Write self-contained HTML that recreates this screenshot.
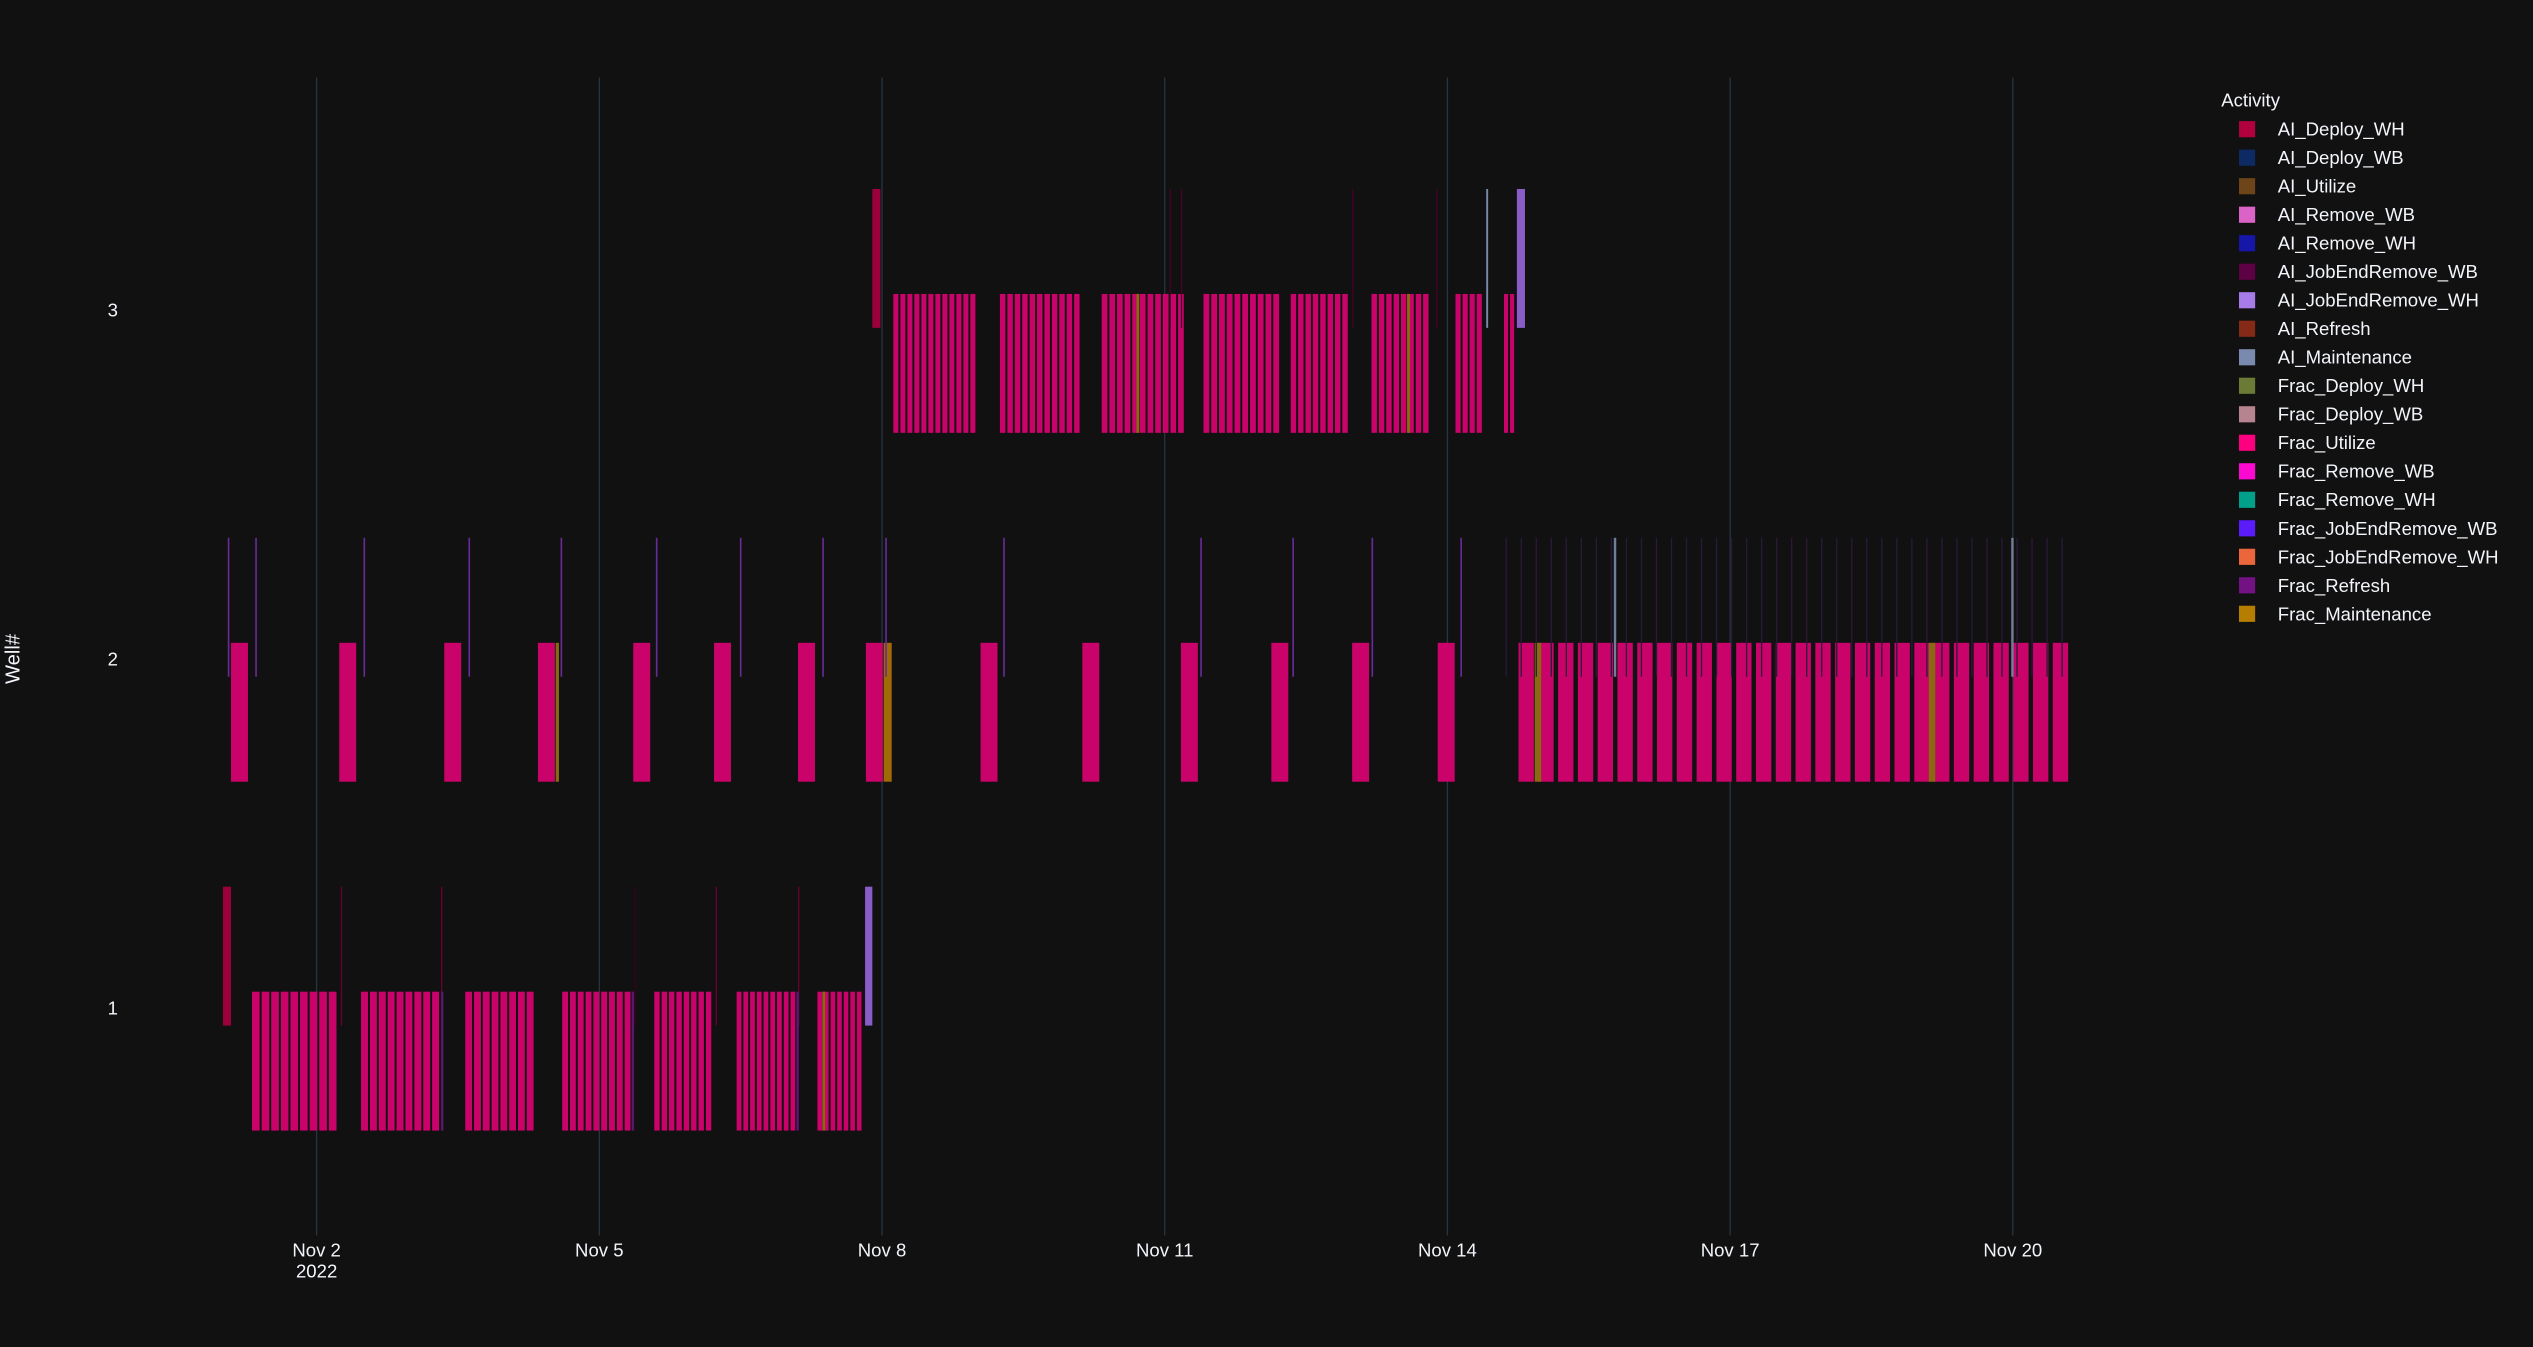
<!DOCTYPE html>
<html><head><meta charset="utf-8"><style>
html,body{margin:0;padding:0;background:#111111;}
svg{display:block;}
text{font-family:"Liberation Sans",sans-serif;fill:#f2f5fa;}
</style></head><body>
<svg id="s" width="2533" height="1347" viewBox="0 0 1568 834" preserveAspectRatio="none" xmlns="http://www.w3.org/2000/svg">
<rect x="0" y="0" width="1568" height="834" fill="#111111"/>
<g stroke="#283442" stroke-width="0.8">
<line x1="196" y1="48" x2="196" y2="765"/>
<line x1="371" y1="48" x2="371" y2="765"/>
<line x1="546" y1="48" x2="546" y2="765"/>
<line x1="721" y1="48" x2="721" y2="765"/>
<line x1="896" y1="48" x2="896" y2="765"/>
<line x1="1071" y1="48" x2="1071" y2="765"/>
<line x1="1246" y1="48" x2="1246" y2="765"/>
</g>
<g id="bars"></g>
<g font-size="11.5" text-anchor="middle">
<text x="196" y="778">Nov 2</text>
<text x="196" y="791">2022</text>
<text x="371" y="778">Nov 5</text>
<text x="546" y="778">Nov 8</text>
<text x="721" y="778">Nov 11</text>
<text x="896" y="778">Nov 14</text>
<text x="1071" y="778">Nov 17</text>
<text x="1246" y="778">Nov 20</text>
</g>
<g font-size="11.5" text-anchor="end">
<text x="73" y="196">3</text>
<text x="73" y="412">2</text>
<text x="73" y="628">1</text>
</g>
<text x="12" y="408" font-size="12.5" text-anchor="middle" transform="rotate(-90 12 408)">Well#</text>
<text x="1375" y="66" font-size="11.5">Activity</text>
<g id="legend" font-size="11.5"></g>
</svg>
<script>
var NS="http://www.w3.org/2000/svg",B=document.getElementById("bars");
function r(x,y,w,h,c,o){var e=document.createElementNS(NS,"rect");e.setAttribute("x",x);e.setAttribute("y",y);e.setAttribute("width",w);e.setAttribute("height",h);e.setAttribute("fill",c);if(o)e.setAttribute("opacity",o);B.appendChild(e);}
var U="#c9036a",DW="#9b003d",JE="#8a5cc8",OL="#8a6a10",PL="#5a1670";
function grp(a,b,n,y){var p=(b-a)/n;for(var i=0;i<n;i++)r(a+i*p,y,p-1.2,86,U);}
// Row 1
r(138,549,5,86,DW);
[[211,"#6a0030"],[273,"#6a0030"],[393,"#3a0020"],[443,"#6a0030"],[494,"#6a0030"]].forEach(function(t){r(t[0],549,0.8,86,t[1]);});
grp(156,209.5,9,614);grp(223.5,273,9,614);grp(288,331.5,8,614);grp(348,391.5,9,614);grp(405,441.5,8,614);grp(456,493.5,9,614);grp(506,534.5,7,614);
r(273,614,1.5,86,PL);r(391,614,1.5,86,PL);r(493,614,1.5,86,PL);
r(509,614,1.8,86,OL);
r(535.5,549,4.5,86,JE);
// Row 3
r(540,117,5,86,DW);
grp(553,605,12,182);grp(619,669.5,11,182);grp(682,734,11,182);grp(745,793,10,182);grp(799,835.5,8,182);grp(849,885.5,8,182);grp(901,918.5,4,182);grp(931,938.5,2,182);
r(703.5,182,1.8,86,OL);r(871,182,1.8,86,OL);
r(920,117,1.2,86,"#7788aa");
[724,731,837,889].forEach(function(x){r(x,117,0.8,86,"#4a0028");});
r(939,117,5,86,JE);
// Row 2
[143,210,275,333,392,442,494,536,607,670,731,787,837,890].forEach(function(x){r(x,398,10.5,86,U);});
r(344,398,2,86,OL);r(547,398,5,86,"#a06a08");
for(var i=0;i<28;i++){r(940+i*12.25,398,9.5,86,U);}
r(950,398,4,86,OL);r(1194,398,4,86,OL);
[141,158,225,290,347,406,458,509,548,621,743,800,849,904].forEach(function(x){r(x,333,1,86,"#6a2a9a");});
for(var x=932;x<1280;x+=9.3){r(x,333,0.8,86,"#2a1a3a");}
r(999,333,1.5,86,"#6f7f9a");r(1245,333,1.5,86,"#6f7f9a");
// Legend
var L=[["AI_Deploy_WH","#b0003e"],["AI_Deploy_WB","#0d2a63"],["AI_Utilize","#6e4518"],["AI_Remove_WB","#db62c6"],["AI_Remove_WH","#1616a8"],["AI_JobEndRemove_WB","#5e0044"],["AI_JobEndRemove_WH","#a77be8"],["AI_Refresh","#842a17"],["AI_Maintenance","#7a8aae"],["Frac_Deploy_WH","#6b7a34"],["Frac_Deploy_WB","#b5848e"],["Frac_Utilize","#fd0080"],["Frac_Remove_WB","#fa0ad0"],["Frac_Remove_WH","#00a08a"],["Frac_JobEndRemove_WB","#5a1cfa"],["Frac_JobEndRemove_WH","#eb663b"],["Frac_Refresh","#721283"],["Frac_Maintenance","#b67e00"]];
var G=document.getElementById("legend");
L.forEach(function(it,i){var y=80+i*17.65;var e=document.createElementNS(NS,"rect");e.setAttribute("x",1386);e.setAttribute("y",y-5);e.setAttribute("width",10);e.setAttribute("height",10);e.setAttribute("fill",it[1]);G.appendChild(e);var t=document.createElementNS(NS,"text");t.setAttribute("x",1410);t.setAttribute("y",y+4);t.textContent=it[0];G.appendChild(t);});
</script>
</body></html>
